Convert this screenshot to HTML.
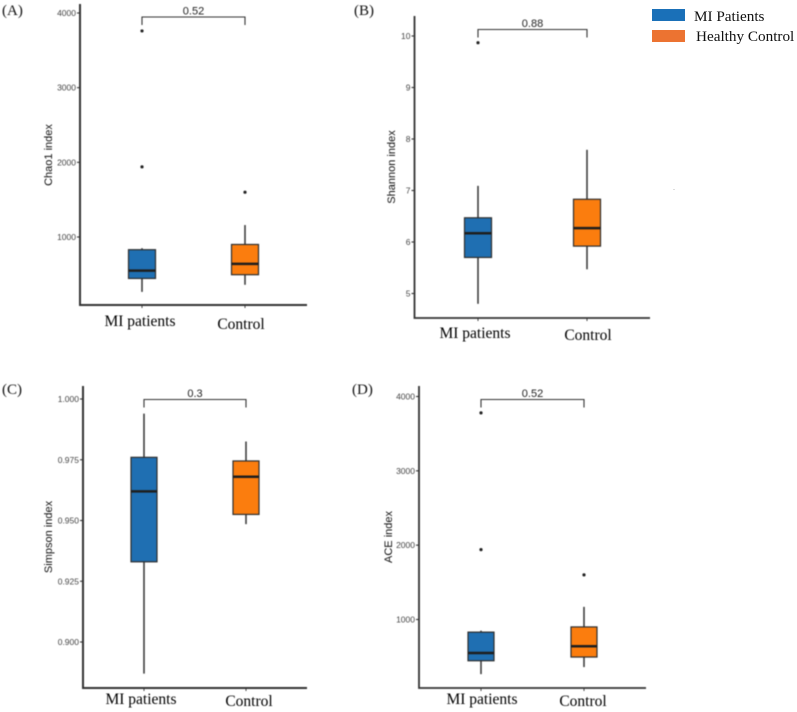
<!DOCTYPE html>
<html lang="en">
<head>
<meta charset="utf-8">
<title>Alpha diversity boxplots</title>
<style>
html,body{margin:0;padding:0;background:#fff;width:797px;height:712px;overflow:hidden}
svg{display:block}
#plots{filter:blur(0.55px)}
.tick{font:8.5px "Liberation Sans",sans-serif;fill:#444;text-anchor:end}
.ytitle{font:11px "Liberation Sans",sans-serif;fill:#111;text-anchor:middle}
.pval{font:11px "Liberation Sans",sans-serif;fill:#222;text-anchor:middle}
.cat{font:15.5px "Liberation Serif",serif;fill:#000;text-anchor:middle}
.letter{font:15px "Liberation Serif",serif;fill:#111}
.leg{font:15.2px "Liberation Serif",serif;fill:#111}
</style>
</head>
<body>
<svg id="chart" width="797" height="712" viewBox="0 0 797 712" xmlns="http://www.w3.org/2000/svg">
  <g id="plots"></g>
  <g>
    <rect x="652" y="9" width="33" height="12" fill="#1a70b8"/>
    <text class="leg" x="694" y="21">MI Patients</text>
    <rect x="652" y="30" width="33" height="12" fill="#ec7331"/>
    <text class="leg" x="696" y="41">Healthy Control</text>
  </g>
  <rect x="673.5" y="189" width="1" height="1" fill="#bbb"/>
</svg>
<script>
// Shared categories
const categories = ['MI patients', 'Control'];

// Panel A: Chao1 index
const chaoTicks = [1000, 2000, 3000, 4000];
const chaoMi = [265, 445, 550, 830, 850];
const chaoControl = [360, 495, 640, 900, 1160];
const chaoMiOutliers = [1940, 3760];
const chaoControlOutliers = [1600];

// Panel B: Shannon index
const shannonTicks = [5, 6, 7, 8, 9, 10];
const shannonMi = [4.8, 5.7, 6.17, 6.47, 7.09];
const shannonControl = [5.47, 5.92, 6.27, 6.83, 7.79];
const shannonMiOutliers = [9.87];
const shannonControlOutliers = [];

// Panel C: Simpson index
const simpsonTicks = [0.9, 0.925, 0.95, 0.975, 1.0];
const simpsonMi = [0.887, 0.933, 0.962, 0.976, 0.994];
const simpsonControl = [0.9485, 0.9525, 0.968, 0.9745, 0.9825];
const simpsonMiOutliers = [];
const simpsonControlOutliers = [];

// Panel D: ACE index
const aceTicks = [1000, 2000, 3000, 4000];
const aceMi = [265, 445, 550, 830, 850];
const aceControl = [360, 495, 640, 900, 1170];
const aceMiOutliers = [1940, 3780];
const aceControlOutliers = [1600];

const boxColors = ['#1f6fb2', '#fb7d0e'];
const NS = 'http://www.w3.org/2000/svg';
const root = document.getElementById('plots');

function make(parent, tag, attrs, text) {
  const el = document.createElementNS(NS, tag);
  for (const k in attrs) el.setAttribute(k, attrs[k]);
  if (text !== undefined) el.textContent = text;
  parent.appendChild(el);
  return el;
}

function drawPanel(p) {
  const g = make(root, 'g', {});
  
  

  // axis functions: y from two calibration values, x from category index
  const y = v => p.yLowPx + (v - p.yLowVal) * (p.yHighPx - p.yLowPx) / (p.yHighVal - p.yLowVal);
  const x = i => p.catPx[i];

  const letter = make(g, 'text', {class: 'letter', x: p.letterX, y: p.letterY}, '(' + p.id.toUpperCase() + ')');
  
  

  // y ticks + labels
  p.ticks.forEach(t => {
    const tk = make(g, 'line', {x1: p.axisX - 3, x2: p.axisX, y1: y(t), y2: y(t), stroke: '#333', 'stroke-width': 1.1});
    
    
    const lb = make(g, 'text', {class: 'tick', x: p.axisX - 4, y: y(t) + 3}, t.toFixed(p.decimals));
    
    
  });

  const yt = make(g, 'text', {class: 'ytitle', transform: 'translate(' + p.titleX + ',' + p.titleY + ') rotate(-90)'}, p.title);
  
  

  // boxes
  [p.mi, p.control].forEach((s, i) => {
    const cx = x(i), hw = p.boxW / 2;
    const whisker = make(g, 'line', {x1: cx, x2: cx, y1: y(s[0]), y2: y(s[4]), stroke: '#333', 'stroke-width': 1.5});
    
    
    const box = make(g, 'rect', {x: cx - hw, y: y(s[3]), width: p.boxW, height: y(s[1]) - y(s[3]),
      fill: boxColors[i], stroke: '#2e2e2e', 'stroke-width': 1.2});
    
    
    const med = make(g, 'line', {x1: cx - hw, x2: cx + hw, y1: y(s[2]), y2: y(s[2]), stroke: '#1e1e1e', 'stroke-width': 2.5});
    
    
    (i === 0 ? p.miOut : p.controlOut).forEach(v => {
      const o = make(g, 'circle', {cx: cx, cy: y(v), r: 1.6, fill: '#222'});
      
      
    });
    const xt = make(g, 'line', {x1: cx, x2: cx, y1: p.axisY, y2: p.axisY + 3, stroke: '#444', 'stroke-width': 1});
    
    
    const cat = make(g, 'text', {class: 'cat', x: p.catLabelX[i], y: p.catLabelY[i]}, categories[i]);
    
    
  });

  // significance bracket
  const b = p.bracketY;
  const br = make(g, 'path', {d: 'M' + x(0) + ' ' + (b + 8) + 'V' + b + 'H' + x(1) + 'V' + (b + 8), fill: 'none', stroke: '#333', 'stroke-width': 1.1});
  
  
  const pv = make(g, 'text', {class: 'pval', x: (x(0) + x(1)) / 2 + p.pDx, y: b - 2.5}, p.pValue);
  
  

  // axes
  const ax = make(g, 'path', {d: 'M' + p.axisX + ' ' + p.axisTop + 'V' + p.axisY + 'H' + p.axisEnd, fill: 'none', stroke: '#333', 'stroke-width': p.axisW});
  
  
}

drawPanel({id: 'a', title: 'Chao1 index', pValue: '0.52', ticks: chaoTicks, decimals: 0,
  mi: chaoMi, control: chaoControl, miOut: chaoMiOutliers, controlOut: chaoControlOutliers,
  yLowVal: 1000, yLowPx: 237, yHighVal: 4000, yHighPx: 13,
  axisX: 80, axisY: 305, axisTop: 4, axisEnd: 307, axisW: 2, catPx: [142, 245], boxW: 27,
  bracketY: 17, pDx: 0, titleX: 52, titleY: 155,
  catLabelX: [140, 241], catLabelY: [326, 329], letterX: 2, letterY: 15});

drawPanel({id: 'b', title: 'Shannon index', pValue: '0.88', ticks: shannonTicks, decimals: 0,
  mi: shannonMi, control: shannonControl, miOut: shannonMiOutliers, controlOut: shannonControlOutliers,
  yLowVal: 5, yLowPx: 293.5, yHighVal: 10, yHighPx: 36,
  axisX: 414.5, axisY: 318, axisTop: 16, axisEnd: 650, axisW: 1.8, catPx: [478, 587], boxW: 27,
  bracketY: 29.5, pDx: 0, titleX: 395, titleY: 167,
  catLabelX: [475, 588], catLabelY: [338, 340], letterX: 354, letterY: 15});

drawPanel({id: 'c', title: 'Simpson index', pValue: '0.3', ticks: simpsonTicks, decimals: 3,
  mi: simpsonMi, control: simpsonControl, miOut: simpsonMiOutliers, controlOut: simpsonControlOutliers,
  yLowVal: 0.9, yLowPx: 642, yHighVal: 1.0, yHighPx: 399,
  axisX: 83, axisY: 688, axisTop: 386, axisEnd: 307, axisW: 2, catPx: [144, 246], boxW: 26,
  bracketY: 399.5, pDx: 0, titleX: 52, titleY: 537,
  catLabelX: [141, 249], catLabelY: [704, 706], letterX: 2, letterY: 394});

drawPanel({id: 'd', title: 'ACE index', pValue: '0.52', ticks: aceTicks, decimals: 0,
  mi: aceMi, control: aceControl, miOut: aceMiOutliers, controlOut: aceControlOutliers,
  yLowVal: 1000, yLowPx: 619.5, yHighVal: 4000, yHighPx: 396.5,
  axisX: 419, axisY: 688, axisTop: 386, axisEnd: 646, axisW: 1.8, catPx: [481, 584], boxW: 26,
  bracketY: 399.5, pDx: 0, titleX: 392, titleY: 537,
  catLabelX: [482, 583], catLabelY: [704, 706], letterX: 352, letterY: 394});
</script>
</body>
</html>
